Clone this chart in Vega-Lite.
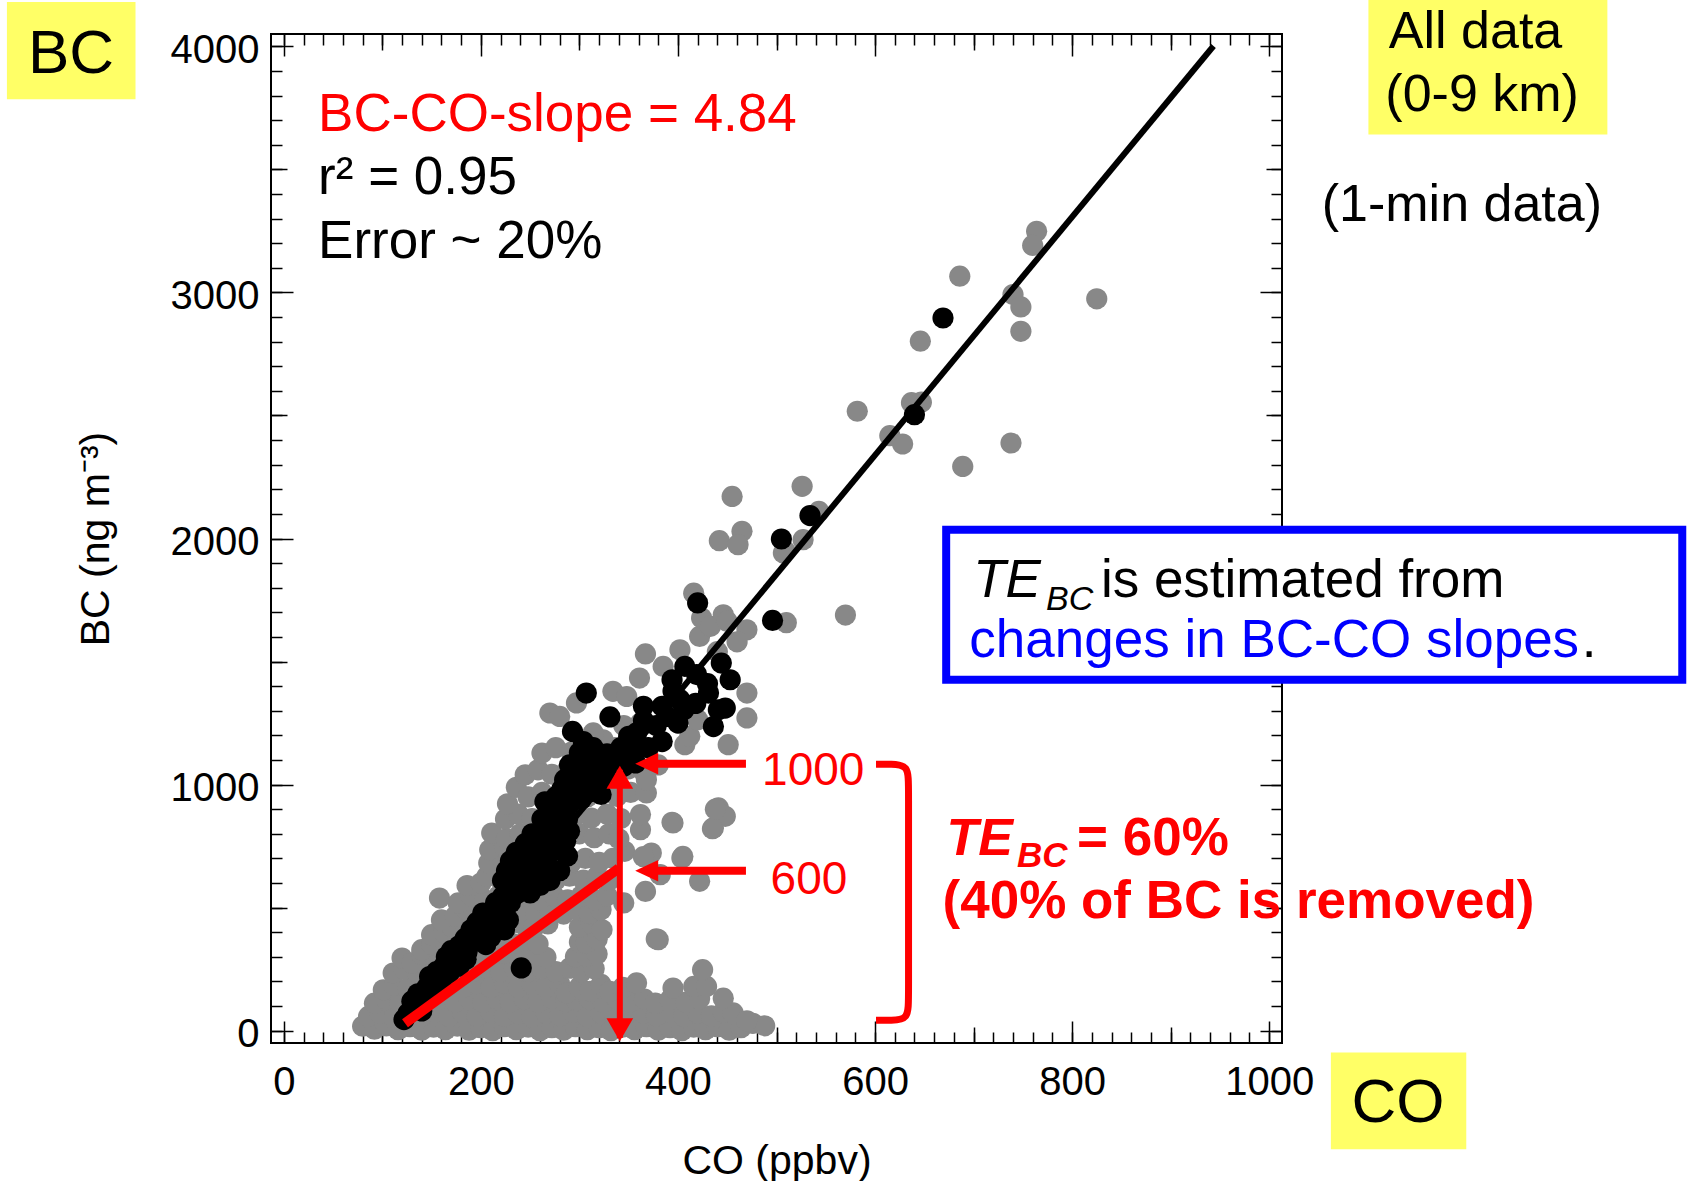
{
  "$schema": "https://vega.github.io/schema/vega-lite/v6.json",
  "width": 1011,
  "height": 1009,
  "autosize": "none",
  "padding": {"left": 271, "top": 34, "right": 410, "bottom": 138},
  "background": "white",
  "config": {
    "font": "Liberation Sans",
    "view": {"stroke": "black", "strokeWidth": 2},
    "axis": {"grid": false, "domain": false, "labelFlush": false, "labelOverlap": false, "tickColor": "black", "tickWidth": 1.5, "labelColor": "black", "titleColor": "black", "titleFontWeight": "normal", "labelFont": "Liberation Sans", "titleFont": "Liberation Sans", "format": "d"}
  },
  "resolve": {"axis": {"x": "independent", "y": "independent"}},
  "datasets": {
    "gray": [
      {"CO":80,"BC":18},{"CO":92,"BC":6},{"CO":104,"BC":20},{"CO":116,"BC":4},{"CO":128,"BC":16},{"CO":140,"BC":2},{"CO":152,"BC":14},{"CO":164,"BC":4},{"CO":176,"BC":18},{"CO":188,"BC":2},{"CO":200,"BC":12},{"CO":212,"BC":0},{"CO":224,"BC":16},{"CO":236,"BC":4},{"CO":248,"BC":14},{"CO":260,"BC":0},{"CO":272,"BC":12},{"CO":284,"BC":2},{"CO":296,"BC":16},{"CO":308,"BC":4},{"CO":320,"BC":12},{"CO":332,"BC":0},{"CO":344,"BC":14},{"CO":356,"BC":4},{"CO":368,"BC":16},{"CO":380,"BC":2},{"CO":392,"BC":12},{"CO":404,"BC":0},{"CO":416,"BC":14},{"CO":428,"BC":4},{"CO":440,"BC":16},{"CO":452,"BC":2},{"CO":464,"BC":12},{"CO":476,"BC":30},{"CO":488,"BC":20},
      {"CO":86,"BC":58},{"CO":98,"BC":70},{"CO":112,"BC":55},{"CO":126,"BC":72},{"CO":140,"BC":60},{"CO":154,"BC":74},{"CO":168,"BC":58},{"CO":182,"BC":72},{"CO":196,"BC":60},{"CO":210,"BC":75},{"CO":224,"BC":58},{"CO":238,"BC":70},{"CO":252,"BC":56},{"CO":266,"BC":72},{"CO":280,"BC":60},{"CO":294,"BC":74},{"CO":308,"BC":58},{"CO":322,"BC":72},{"CO":336,"BC":60},{"CO":350,"BC":74},{"CO":365,"BC":72},{"CO":378,"BC":60},{"CO":392,"BC":74},{"CO":406,"BC":58},{"CO":420,"BC":72},{"CO":434,"BC":60},{"CO":446,"BC":75},{"CO":456,"BC":72},{"CO":470,"BC":40},
      {"CO":92,"BC":112},{"CO":104,"BC":128},{"CO":118,"BC":115},{"CO":132,"BC":130},{"CO":146,"BC":116},{"CO":160,"BC":132},{"CO":174,"BC":118},{"CO":188,"BC":130},{"CO":202,"BC":116},{"CO":216,"BC":132},{"CO":230,"BC":118},{"CO":244,"BC":130},{"CO":258,"BC":116},{"CO":272,"BC":132},{"CO":286,"BC":118},{"CO":297,"BC":126},{"CO":310,"BC":130},{"CO":324,"BC":116},{"CO":338,"BC":130},{"CO":352,"BC":118},{"CO":366,"BC":128},{"CO":377,"BC":112},{"CO":392,"BC":126},{"CO":408,"BC":116},{"CO":422,"BC":130},{"CO":446,"BC":132},
      {"CO":101,"BC":166},{"CO":112,"BC":185},{"CO":126,"BC":172},{"CO":140,"BC":190},{"CO":154,"BC":174},{"CO":168,"BC":190},{"CO":182,"BC":176},{"CO":196,"BC":192},{"CO":210,"BC":176},{"CO":224,"BC":192},{"CO":238,"BC":176},{"CO":252,"BC":190},{"CO":266,"BC":176},{"CO":280,"BC":190},{"CO":287,"BC":153},{"CO":300,"BC":178},{"CO":311,"BC":160},{"CO":322,"BC":188},{"CO":331,"BC":160},{"CO":344,"BC":176},{"CO":358,"BC":194},{"CO":395,"BC":173},{"CO":416,"BC":180},{"CO":429,"BC":180},
      {"CO":111,"BC":234},{"CO":122,"BC":250},{"CO":136,"BC":236},{"CO":150,"BC":252},{"CO":164,"BC":238},{"CO":178,"BC":254},{"CO":192,"BC":240},{"CO":206,"BC":256},{"CO":220,"BC":240},{"CO":234,"BC":256},{"CO":248,"BC":240},{"CO":262,"BC":254},{"CO":276,"BC":240},{"CO":290,"BC":254},{"CO":302,"BC":240},{"CO":315,"BC":252},{"CO":425,"BC":248},
      {"CO":120,"BC":295},{"CO":130,"BC":275},{"CO":140,"BC":310},{"CO":154,"BC":296},{"CO":168,"BC":312},{"CO":182,"BC":298},{"CO":196,"BC":314},{"CO":210,"BC":298},{"CO":224,"BC":314},{"CO":238,"BC":300},{"CO":252,"BC":312},{"CO":266,"BC":298},{"CO":296,"BC":300},{"CO":307,"BC":302},{"CO":318,"BC":312},
      {"CO":140,"BC":329},{"CO":150,"BC":350},{"CO":162,"BC":368},{"CO":176,"BC":352},{"CO":190,"BC":370},{"CO":204,"BC":354},{"CO":218,"BC":370},{"CO":232,"BC":354},{"CO":246,"BC":368},{"CO":258,"BC":352},{"CO":300,"BC":360},{"CO":307,"BC":356},{"CO":318,"BC":372},{"CO":380,"BC":370},
      {"CO":150,"BC":390},{"CO":162,"BC":400},{"CO":170,"BC":424},{"CO":184,"BC":436},{"CO":198,"BC":420},{"CO":212,"BC":436},{"CO":226,"BC":420},{"CO":240,"BC":436},{"CO":254,"BC":420},{"CO":268,"BC":434},{"CO":300,"BC":420},{"CO":312,"BC":436},{"CO":323,"BC":410},
      {"CO":160,"BC":450},{"CO":174,"BC":465},{"CO":186,"BC":490},{"CO":200,"BC":474},{"CO":214,"BC":490},{"CO":228,"BC":474},{"CO":242,"BC":490},{"CO":256,"BC":474},{"CO":270,"BC":490},{"CO":284,"BC":474},{"CO":298,"BC":490},{"CO":310,"BC":476},{"CO":322,"BC":491},
      {"CO":158,"BC":539},{"CO":177,"BC":519},{"CO":190,"BC":548},{"CO":204,"BC":532},{"CO":218,"BC":548},{"CO":232,"BC":532},{"CO":246,"BC":548},{"CO":260,"BC":532},{"CO":274,"BC":548},{"CO":288,"BC":532},{"CO":302,"BC":548},{"CO":316,"BC":532},{"CO":328,"BC":548},{"CO":345,"BC":519},{"CO":367,"BC":566},
      {"CO":186,"BC":590},{"CO":200,"BC":600},{"CO":206,"BC":627},{"CO":220,"BC":612},{"CO":233,"BC":627},{"CO":248,"BC":612},{"CO":262,"BC":628},{"CO":276,"BC":612},{"CO":290,"BC":628},{"CO":304,"BC":612},{"CO":318,"BC":628},{"CO":330,"BC":610},{"CO":382,"BC":634},{"CO":422,"BC":607},
      {"CO":208,"BC":681},{"CO":222,"BC":700},{"CO":236,"BC":681},{"CO":250,"BC":700},{"CO":264,"BC":684},{"CO":278,"BC":700},{"CO":292,"BC":684},{"CO":306,"BC":700},{"CO":320,"BC":684},{"CO":334,"BC":700},{"CO":346,"BC":729},{"CO":373,"BC":722},{"CO":405,"BC":708},{"CO":209,"BC":735},{"CO":224,"BC":748},{"CO":240,"BC":735},
      {"CO":211,"BC":803},{"CO":226,"BC":780},{"CO":240,"BC":800},{"CO":255,"BC":782},{"CO":270,"BC":800},{"CO":285,"BC":784},{"CO":300,"BC":800},{"CO":315,"BC":784},{"CO":330,"BC":800},{"CO":340,"BC":780},{"CO":362,"BC":817},{"CO":395,"BC":844},{"CO":436,"BC":824},
      {"CO":225,"BC":860},{"CO":238,"BC":880},{"CO":252,"BC":862},{"CO":268,"BC":880},{"CO":282,"BC":864},{"CO":298,"BC":880},{"CO":312,"BC":864},{"CO":328,"BC":880},{"CO":342,"BC":862},{"CO":362,"BC":878},{"CO":441,"BC":905},{"CO":448,"BC":871},{"CO":227,"BC":922},
      {"CO":236,"BC":989},{"CO":248,"BC":950},{"CO":262,"BC":968},{"CO":276,"BC":950},{"CO":292,"BC":966},{"CO":308,"BC":950},{"CO":322,"BC":968},{"CO":338,"BC":952},{"CO":352,"BC":968},{"CO":368,"BC":966},
      {"CO":245,"BC":1040},{"CO":258,"BC":1060},{"CO":272,"BC":1042},{"CO":288,"BC":1060},{"CO":302,"BC":1044},{"CO":318,"BC":1062},{"CO":334,"BC":1046},{"CO":350,"BC":1064},{"CO":366,"BC":1048},{"CO":368,"BC":1020},{"CO":380,"BC":1080},
      {"CO":262,"BC":1128},{"CO":276,"BC":1150},{"CO":292,"BC":1132},{"CO":308,"BC":1150},{"CO":322,"BC":1134},{"CO":336,"BC":1150},{"CO":350,"BC":1140},{"CO":366,"BC":1152},{"CO":407,"BC":1162},{"CO":412,"BC":1196},{"CO":451,"BC":1162},{"CO":324,"BC":1182},{"CO":314,"BC":1210},
      {"CO":270,"BC":1291},{"CO":280,"BC":1277},{"CO":297,"BC":1332},{"CO":334,"BC":1379},{"CO":348,"BC":1358},{"CO":361,"BC":1433},{"CO":420,"BC":1264},{"CO":470,"BC":1271},{"CO":470,"BC":1372},{"CO":345,"BC":1240},{"CO":362,"BC":1250},
      {"CO":367,"BC":1531},{"CO":402,"BC":1548},{"CO":422,"BC":1602},{"CO":416,"BC":1778},{"CO":424,"BC":1677},{"CO":433,"BC":1643},{"CO":446,"BC":1690},{"CO":450,"BC":1663},{"CO":470,"BC":1629},{"CO":385,"BC":1480},{"CO":440,"BC":1540},{"CO":460,"BC":1580},
      {"CO":455,"BC":2171},{"CO":465,"BC":2029},{"CO":442,"BC":1991},{"CO":461,"BC":1975},{"CO":526,"BC":2212},{"CO":543,"BC":2110},{"CO":527,"BC":1995},{"CO":507,"BC":1941},{"CO":509,"BC":1948},{"CO":510,"BC":1658},{"CO":570,"BC":1689},{"CO":582,"BC":2517},{"CO":615,"BC":2418},{"CO":628,"BC":2384},{"CO":637,"BC":2552},{"CO":647,"BC":2554},{"CO":646,"BC":2802},{"CO":686,"BC":3066},{"CO":740,"BC":2991},{"CO":748,"BC":2941},{"CO":748,"BC":2842},{"CO":764,"BC":3248},{"CO":760,"BC":3191},{"CO":825,"BC":2974},{"CO":738,"BC":2388},{"CO":689,"BC":2293},
      {"CO":394,"BC":847},{"CO":404,"BC":702},{"CO":435,"BC":821},{"CO":438,"BC":900},{"CO":365,"BC":707},{"CO":378,"BC":373}
    ],
    "black": [
      {"CO":122,"BC":45},{"CO":126,"BC":70},{"CO":132,"BC":95},{"CO":140,"BC":80},
      {"CO":130,"BC":120},{"CO":136,"BC":150},{"CO":142,"BC":135},{"CO":145,"BC":175},{"CO":150,"BC":160},{"CO":155,"BC":200},{"CO":160,"BC":185},
      {"CO":148,"BC":220},{"CO":155,"BC":240},{"CO":162,"BC":260},{"CO":168,"BC":235},{"CO":172,"BC":280},{"CO":178,"BC":262},{"CO":165,"BC":300},{"CO":185,"BC":290},
      {"CO":170,"BC":325},{"CO":178,"BC":345},{"CO":186,"BC":320},{"CO":184,"BC":375},{"CO":192,"BC":360},{"CO":198,"BC":390},{"CO":205,"BC":350},{"CO":210,"BC":380},
      {"CO":190,"BC":410},{"CO":196,"BC":440},{"CO":204,"BC":425},{"CO":210,"BC":460},{"CO":218,"BC":440},{"CO":224,"BC":410},{"CO":228,"BC":450},{"CO":202,"BC":478},{"CO":213,"BC":495},{"CO":220,"BC":480},
      {"CO":215,"BC":520},{"CO":222,"BC":545},{"CO":230,"BC":520},{"CO":236,"BC":555},{"CO":226,"BC":575},{"CO":242,"BC":580},{"CO":250,"BC":560},{"CO":232,"BC":600},{"CO":260,"BC":590},{"CO":222,"BC":610},
      {"CO":226,"BC":650},{"CO":230,"BC":690},{"CO":236,"BC":725},{"CO":245,"BC":760},{"CO":252,"BC":800},
      {"CO":236,"BC":640},{"CO":244,"BC":625},{"CO":252,"BC":650},{"CO":262,"BC":630},{"CO":270,"BC":610},{"CO":240,"BC":680},{"CO":256,"BC":690},{"CO":268,"BC":670},{"CO":280,"BC":650},
      {"CO":248,"BC":720},{"CO":258,"BC":740},{"CO":268,"BC":715},{"CO":278,"BC":735},{"CO":288,"BC":710},{"CO":262,"BC":770},{"CO":275,"BC":790},{"CO":286,"BC":770},
      {"CO":266,"BC":820},{"CO":278,"BC":840},{"CO":290,"BC":810},{"CO":262,"BC":860},{"CO":275,"BC":880},{"CO":288,"BC":860},
      {"CO":265,"BC":930},{"CO":276,"BC":950},{"CO":290,"BC":920},{"CO":302,"BC":940},{"CO":282,"BC":980},{"CO":296,"BC":990},{"CO":310,"BC":970},{"CO":322,"BC":960},
      {"CO":285,"BC":1020},{"CO":298,"BC":1040},{"CO":312,"BC":1020},{"CO":326,"BC":1035},{"CO":290,"BC":1080},{"CO":305,"BC":1090},{"CO":318,"BC":1070},{"CO":332,"BC":1095},{"CO":345,"BC":1075},{"CO":357,"BC":1088},
      {"CO":300,"BC":1130},{"CO":314,"BC":1150},{"CO":328,"BC":1125},{"CO":342,"BC":1150},{"CO":356,"BC":1130},{"CO":370,"BC":1150},{"CO":304,"BC":1175},{"CO":350,"BC":1196},{"CO":358,"BC":1210},{"CO":384,"BC":1175},
      {"CO":293,"BC":1216},{"CO":331,"BC":1275},{"CO":365,"BC":1260},{"CO":378,"BC":1240},{"CO":389,"BC":1277},{"CO":436,"BC":1236},{"CO":400,"BC":1250},
      {"CO":365,"BC":1318},{"CO":384,"BC":1318},{"CO":406,"BC":1304},{"CO":441,"BC":1304},{"CO":448,"BC":1311},{"CO":307,"BC":1372},{"CO":431,"BC":1372},{"CO":402,"BC":1345},{"CO":418,"BC":1330},{"CO":395,"BC":1380},
      {"CO":394,"BC":1426},{"CO":407,"BC":1480},{"CO":419,"BC":1447},{"CO":444,"BC":1494},{"CO":453,"BC":1426},{"CO":430,"BC":1410},
      {"CO":241,"BC":255},{"CO":420,"BC":1738},{"CO":496,"BC":1667},{"CO":505,"BC":1998},{"CO":534,"BC":2093},{"CO":640,"BC":2503},{"CO":669,"BC":2896}
    ]
  },
  "layer": [
    {
      "data": {"name": "gray"},
      "mark": {"type": "circle", "color": "#888888", "opacity": 1, "size": 450},
      "encoding": {
        "x": {"field": "CO", "type": "quantitative", "scale": {"domain": [-13, 1013], "nice": false, "zero": false},
              "axis": {"orient": "bottom", "values": [0, 200, 400, 600, 800, 1000], "ticks": false, "labelFontSize": 40, "labelPadding": 19, "labelBaseline": "top", "title": "CO (ppbv)", "titleFontSize": 41, "titleY": 130, "titleBaseline": "alphabetic"}},
        "y": {"field": "BC", "type": "quantitative", "scale": {"domain": [-50, 4050], "nice": false, "zero": false},
              "axis": {"orient": "left", "values": [0, 1000, 2000, 3000, 4000], "ticks": false, "labelFontSize": 40, "labelPadding": 12, "labelOffset": 4, "title": "BC (ng m⁻³)", "titleFontSize": 41, "titleX": -163, "titleY": 504.5, "titleAngle": 270, "titleAlign": "center", "titleBaseline": "alphabetic"}}
      }
    },
    {
      "data": {"name": "black"},
      "mark": {"type": "circle", "color": "black", "opacity": 1, "size": 450},
      "encoding": {
        "x": {"field": "CO", "type": "quantitative", "scale": {"domain": [-13, 1013], "nice": false, "zero": false},
              "axis": {"orient": "bottom", "values": [0, 200, 400, 600, 800, 1000], "tickSize": -22, "labels": false, "title": null}},
        "y": {"field": "BC", "type": "quantitative", "scale": {"domain": [-50, 4050], "nice": false, "zero": false},
              "axis": {"orient": "left", "values": [0, 1000, 2000, 3000, 4000], "tickSize": -22, "labels": false, "title": null}}
      }
    },
    {
      "data": {"values": [{"CO": 123, "BC": 30, "CO2": 943.5, "BC2": 4001.2}]},
      "mark": {"type": "rule", "color": "black", "strokeWidth": 6, "strokeCap": "butt"},
      "encoding": {
        "x": {"field": "CO", "type": "quantitative", "scale": {"domain": [-13, 1013], "nice": false, "zero": false},
              "axis": {"orient": "bottom", "values": [100, 300, 500, 700, 900], "tickSize": -16, "labels": false, "title": null}},
        "y": {"field": "BC", "type": "quantitative", "scale": {"domain": [-50, 4050], "nice": false, "zero": false},
              "axis": {"orient": "left", "values": [500, 1500, 2500, 3500], "tickSize": -16, "labels": false, "title": null}},
        "x2": {"field": "CO2"},
        "y2": {"field": "BC2"}
      }
    },
    {
      "data": {"values": [{"CO": 123, "BC": 30, "CO2": 340, "BC2": 660.2}]},
      "mark": {"type": "rule", "color": "#FF0000", "strokeWidth": 10, "strokeCap": "butt"},
      "encoding": {
        "x": {"field": "CO", "type": "quantitative", "scale": {"domain": [-13, 1013], "nice": false, "zero": false},
              "axis": {"orient": "bottom", "values": [0,20,40,60,80,100,120,140,160,180,200,220,240,260,280,300,320,340,360,380,400,420,440,460,480,500,520,540,560,580,600,620,640,660,680,700,720,740,760,780,800,820,840,860,880,900,920,940,960,980,1000], "tickSize": -11, "labels": false, "title": null}},
        "y": {"field": "BC", "type": "quantitative", "scale": {"domain": [-50, 4050], "nice": false, "zero": false},
              "axis": {"orient": "left", "values": [0,100,200,300,400,500,600,700,800,900,1000,1100,1200,1300,1400,1500,1600,1700,1800,1900,2000,2100,2200,2300,2400,2500,2600,2700,2800,2900,3000,3100,3200,3300,3400,3500,3600,3700,3800,3900,4000], "tickSize": -11, "labels": false, "title": null}},
        "x2": {"field": "CO2"},
        "y2": {"field": "BC2"}
      }
    },
    {
      "data": {"values": [{"CO": 341, "BC": -30, "BC2": 1060}]},
      "mark": {"type": "rule", "color": "#FF0000", "strokeWidth": 6},
      "encoding": {
        "x": {"field": "CO", "type": "quantitative", "scale": {"domain": [-13, 1013], "nice": false, "zero": false},
              "axis": {"orient": "top", "values": [0, 200, 400, 600, 800, 1000], "tickSize": -22, "labels": false, "title": null}},
        "y": {"field": "BC", "type": "quantitative", "scale": {"domain": [-50, 4050], "nice": false, "zero": false},
              "axis": {"orient": "right", "values": [0, 1000, 2000, 3000, 4000], "tickSize": -22, "labels": false, "title": null}},
        "y2": {"field": "BC2"}
      }
    },
    {
      "data": {"values": [{"CO": 368, "CO2": 469, "BC": 1085}, {"CO": 368, "CO2": 469, "BC": 650}]},
      "mark": {"type": "rule", "color": "#FF0000", "strokeWidth": 8},
      "encoding": {
        "x": {"field": "CO", "type": "quantitative", "scale": {"domain": [-13, 1013], "nice": false, "zero": false},
              "axis": {"orient": "top", "values": [100, 300, 500, 700, 900], "tickSize": -16, "labels": false, "title": null}},
        "y": {"field": "BC", "type": "quantitative", "scale": {"domain": [-50, 4050], "nice": false, "zero": false},
              "axis": {"orient": "right", "values": [500, 1500, 2500, 3500], "tickSize": -16, "labels": false, "title": null}},
        "x2": {"field": "CO2"}
      }
    },
    {
      "data": {"values": [
        {"i": 0, "CO": 601, "BC": 1083}, {"i": 1, "CO": 616, "BC": 1083}, {"i": 2, "CO": 634, "BC": 1080},
        {"i": 3, "CO": 634, "BC": 990}, {"i": 4, "CO": 634, "BC": 560}, {"i": 5, "CO": 634, "BC": 135},
        {"i": 6, "CO": 634, "BC": 45}, {"i": 7, "CO": 616, "BC": 42}, {"i": 8, "CO": 601, "BC": 42}
      ]},
      "mark": {"type": "line", "color": "#FF0000", "strokeWidth": 7, "interpolate": "basis"},
      "encoding": {
        "x": {"field": "CO", "type": "quantitative", "scale": {"domain": [-13, 1013], "nice": false, "zero": false},
              "axis": {"orient": "top", "values": [0,20,40,60,80,100,120,140,160,180,200,220,240,260,280,300,320,340,360,380,400,420,440,460,480,500,520,540,560,580,600,620,640,660,680,700,720,740,760,780,800,820,840,860,880,900,920,940,960,980,1000], "tickSize": -11, "labels": false, "title": null}},
        "y": {"field": "BC", "type": "quantitative", "scale": {"domain": [-50, 4050], "nice": false, "zero": false},
              "axis": {"orient": "right", "values": [0,100,200,300,400,500,600,700,800,900,1000,1100,1200,1300,1400,1500,1600,1700,1800,1900,2000,2100,2200,2300,2400,2500,2600,2700,2800,2900,3000,3100,3200,3300,3400,3500,3600,3700,3800,3900,4000], "tickSize": -11, "labels": false, "title": null}},
        "order": {"field": "i", "type": "quantitative"}
      }
    },
    {
      "data": {"values": [{"CO": 341, "BC": 1077}]},
      "mark": {"type": "point", "shape": "M0,0L-0.58,1L0.58,1Z", "size": 2116, "filled": true, "opacity": 1, "color": "#FF0000", "strokeWidth": 0},
      "encoding": {
        "x": {"field": "CO", "type": "quantitative", "scale": {"domain": [-13, 1013], "nice": false, "zero": false}, "axis": null},
        "y": {"field": "BC", "type": "quantitative", "scale": {"domain": [-50, 4050], "nice": false, "zero": false}, "axis": null}
      }
    },
    {
      "data": {"values": [{"CO": 341, "BC": -43}]},
      "mark": {"type": "point", "shape": "M0,0L-0.58,-1L0.58,-1Z", "size": 2116, "filled": true, "opacity": 1, "color": "#FF0000", "strokeWidth": 0},
      "encoding": {
        "x": {"field": "CO", "type": "quantitative", "scale": {"domain": [-13, 1013], "nice": false, "zero": false}, "axis": null},
        "y": {"field": "BC", "type": "quantitative", "scale": {"domain": [-50, 4050], "nice": false, "zero": false}, "axis": null}
      }
    },
    {
      "data": {"values": [{"CO": 356.6, "BC": 1085}, {"CO": 356.6, "BC": 650}]},
      "mark": {"type": "point", "shape": "M0,0L1,-0.47L1,0.47Z", "size": 2116, "filled": true, "opacity": 1, "color": "#FF0000", "strokeWidth": 0},
      "encoding": {
        "x": {"field": "CO", "type": "quantitative", "scale": {"domain": [-13, 1013], "nice": false, "zero": false}, "axis": null},
        "y": {"field": "BC", "type": "quantitative", "scale": {"domain": [-50, 4050], "nice": false, "zero": false}, "axis": null}
      }
    },
    {
      "data": {"values": [{"CO": 672.2, "CO2": 1419.2, "BC": 2035.8, "BC2": 1426.3}]},
      "mark": {"type": "rect", "fill": "white", "stroke": "#0000FF", "strokeWidth": 8},
      "encoding": {
        "x": {"field": "CO", "type": "quantitative", "scale": {"domain": [-13, 1013], "nice": false, "zero": false}, "axis": null},
        "y": {"field": "BC", "type": "quantitative", "scale": {"domain": [-50, 4050], "nice": false, "zero": false}, "axis": null},
        "x2": {"field": "CO2"},
        "y2": {"field": "BC2"}
      }
    },
    {
      "data": {"values": [
        {"CO": -281, "CO2": -150.5, "BC": 4180, "BC2": 3785},
        {"CO": 1100.7, "CO2": 1343.2, "BC": 4200, "BC2": 3642},
        {"CO": 1062.6, "CO2": 1200, "BC": -88.6, "BC2": -481.5}
      ]},
      "mark": {"type": "rect", "fill": "#FFFF66"},
      "encoding": {
        "x": {"field": "CO", "type": "quantitative", "scale": {"domain": [-13, 1013], "nice": false, "zero": false}, "axis": null},
        "y": {"field": "BC", "type": "quantitative", "scale": {"domain": [-50, 4050], "nice": false, "zero": false}, "axis": null},
        "x2": {"field": "CO2"},
        "y2": {"field": "BC2"}
      }
    },
    {
      "data": {"values": [{"CO": 34.8, "BC": 3657.5, "label": "BC-CO-slope = 4.84"}]},
      "mark": {"type": "text", "align": "left", "baseline": "alphabetic", "fontSize": 53, "color": "#FF0000"},
      "encoding": {
        "x": {"field": "CO", "type": "quantitative", "scale": {"domain": [-13, 1013], "nice": false, "zero": false}, "axis": null},
        "y": {"field": "BC", "type": "quantitative", "scale": {"domain": [-50, 4050], "nice": false, "zero": false}, "axis": null},
        "text": {"field": "label"}
      }
    },
    {
      "data": {"values": [
        {"CO": 34.8, "BC": 3399.5, "label": "r² = 0.95"},
        {"CO": 34.8, "BC": 3139.8, "label": "Error ~ 20%"}
      ]},
      "mark": {"type": "text", "align": "left", "baseline": "alphabetic", "fontSize": 53, "color": "black"},
      "encoding": {
        "x": {"field": "CO", "type": "quantitative", "scale": {"domain": [-13, 1013], "nice": false, "zero": false}, "axis": null},
        "y": {"field": "BC", "type": "quantitative", "scale": {"domain": [-50, 4050], "nice": false, "zero": false}, "axis": null},
        "text": {"field": "label"}
      }
    },
    {
      "data": {"values": [
        {"CO": 1121.4, "BC": 3995, "label": "All data"},
        {"CO": 1117.9, "BC": 3738, "label": "(0-9 km)"},
        {"CO": 1053.3, "BC": 3290.5, "label": "(1-min data)"}
      ]},
      "mark": {"type": "text", "align": "left", "baseline": "alphabetic", "fontSize": 52, "color": "black"},
      "encoding": {
        "x": {"field": "CO", "type": "quantitative", "scale": {"domain": [-13, 1013], "nice": false, "zero": false}, "axis": null},
        "y": {"field": "BC", "type": "quantitative", "scale": {"domain": [-50, 4050], "nice": false, "zero": false}, "axis": null},
        "text": {"field": "label"}
      }
    },
    {
      "data": {"values": [
        {"CO": -215.9, "BC": 3891, "label": "BC"},
        {"CO": 1130.6, "BC": -371.4, "label": "CO"}
      ]},
      "mark": {"type": "text", "align": "center", "baseline": "alphabetic", "fontSize": 62, "color": "black"},
      "encoding": {
        "x": {"field": "CO", "type": "quantitative", "scale": {"domain": [-13, 1013], "nice": false, "zero": false}, "axis": null},
        "y": {"field": "BC", "type": "quantitative", "scale": {"domain": [-50, 4050], "nice": false, "zero": false}, "axis": null},
        "text": {"field": "label"}
      }
    },
    {
      "data": {"values": [
        {"CO": 485.4, "BC": 1000, "label": "1000"},
        {"CO": 494, "BC": 557, "label": "600"}
      ]},
      "mark": {"type": "text", "align": "left", "baseline": "alphabetic", "fontSize": 46, "color": "#FF0000"},
      "encoding": {
        "x": {"field": "CO", "type": "quantitative", "scale": {"domain": [-13, 1013], "nice": false, "zero": false}, "axis": null},
        "y": {"field": "BC", "type": "quantitative", "scale": {"domain": [-50, 4050], "nice": false, "zero": false}, "axis": null},
        "text": {"field": "label"}
      }
    },
    {
      "data": {"values": [{"CO": 699.6, "BC": 1763.5, "label": "TE"}]},
      "mark": {"type": "text", "align": "left", "baseline": "alphabetic", "fontSize": 53, "fontStyle": "italic", "color": "black"},
      "encoding": {
        "x": {"field": "CO", "type": "quantitative", "scale": {"domain": [-13, 1013], "nice": false, "zero": false}, "axis": null},
        "y": {"field": "BC", "type": "quantitative", "scale": {"domain": [-50, 4050], "nice": false, "zero": false}, "axis": null},
        "text": {"field": "label"}
      }
    },
    {
      "data": {"values": [{"CO": 773.5, "BC": 1711, "label": "BC"}]},
      "mark": {"type": "text", "align": "left", "baseline": "alphabetic", "fontSize": 34, "fontStyle": "italic", "color": "black"},
      "encoding": {
        "x": {"field": "CO", "type": "quantitative", "scale": {"domain": [-13, 1013], "nice": false, "zero": false}, "axis": null},
        "y": {"field": "BC", "type": "quantitative", "scale": {"domain": [-50, 4050], "nice": false, "zero": false}, "axis": null},
        "text": {"field": "label"}
      }
    },
    {
      "data": {"values": [
        {"CO": 829.2, "BC": 1763.5, "label": "is estimated from"},
        {"CO": 1317.2, "BC": 1518, "label": "."}
      ]},
      "mark": {"type": "text", "align": "left", "baseline": "alphabetic", "fontSize": 53, "color": "black"},
      "encoding": {
        "x": {"field": "CO", "type": "quantitative", "scale": {"domain": [-13, 1013], "nice": false, "zero": false}, "axis": null},
        "y": {"field": "BC", "type": "quantitative", "scale": {"domain": [-50, 4050], "nice": false, "zero": false}, "axis": null},
        "text": {"field": "label"}
      }
    },
    {
      "data": {"values": [{"CO": 695.7, "BC": 1518, "label": "changes in BC-CO slopes"}]},
      "mark": {"type": "text", "align": "left", "baseline": "alphabetic", "fontSize": 53, "color": "#0000FF"},
      "encoding": {
        "x": {"field": "CO", "type": "quantitative", "scale": {"domain": [-13, 1013], "nice": false, "zero": false}, "axis": null},
        "y": {"field": "BC", "type": "quantitative", "scale": {"domain": [-50, 4050], "nice": false, "zero": false}, "axis": null},
        "text": {"field": "label"}
      }
    },
    {
      "data": {"values": [{"CO": 672.6, "BC": 712, "label": "TE"}]},
      "mark": {"type": "text", "align": "left", "baseline": "alphabetic", "fontSize": 52, "fontStyle": "italic", "fontWeight": "bold", "color": "#FF0000"},
      "encoding": {
        "x": {"field": "CO", "type": "quantitative", "scale": {"domain": [-13, 1013], "nice": false, "zero": false}, "axis": null},
        "y": {"field": "BC", "type": "quantitative", "scale": {"domain": [-50, 4050], "nice": false, "zero": false}, "axis": null},
        "text": {"field": "label"}
      }
    },
    {
      "data": {"values": [{"CO": 744, "BC": 664, "label": "BC"}]},
      "mark": {"type": "text", "align": "left", "baseline": "alphabetic", "fontSize": 35, "fontStyle": "italic", "fontWeight": "bold", "color": "#FF0000"},
      "encoding": {
        "x": {"field": "CO", "type": "quantitative", "scale": {"domain": [-13, 1013], "nice": false, "zero": false}, "axis": null},
        "y": {"field": "BC", "type": "quantitative", "scale": {"domain": [-50, 4050], "nice": false, "zero": false}, "axis": null},
        "text": {"field": "label"}
      }
    },
    {
      "data": {"values": [
        {"CO": 805, "BC": 712, "label": "= 60%"},
        {"CO": 668.5, "BC": 456.7, "label": "(40% of BC is removed)"}
      ]},
      "mark": {"type": "text", "align": "left", "baseline": "alphabetic", "fontSize": 53, "fontWeight": "bold", "color": "#FF0000"},
      "encoding": {
        "x": {"field": "CO", "type": "quantitative", "scale": {"domain": [-13, 1013], "nice": false, "zero": false}, "axis": null},
        "y": {"field": "BC", "type": "quantitative", "scale": {"domain": [-50, 4050], "nice": false, "zero": false}, "axis": null},
        "text": {"field": "label"}
      }
    }
  ]
}
